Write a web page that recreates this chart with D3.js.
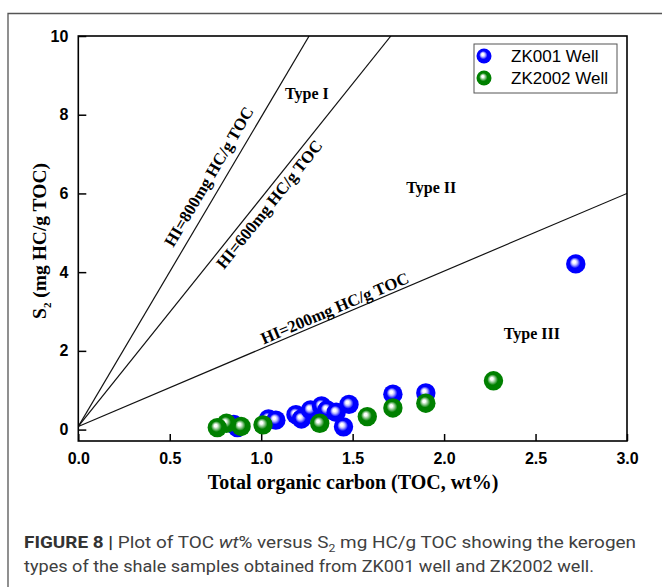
<!DOCTYPE html>
<html><head><meta charset="utf-8">
<script src="https://cdn.jsdelivr.net/npm/d3@7"></script>
<style>body{margin:0;background:#fff}</style>
</head><body>
<svg id="c" width="662" height="587"></svg>
<script>
// ---- data ----
const zk001TOC = [2.72, 1.90, 1.72, 1.19, 1.22, 1.27, 1.33, 1.36, 1.41, 1.48, 1.45, 1.04, 1.08, 0.85, 0.87];
const zk001S2  = [4.21, 0.93, 0.90, 0.38, 0.27, 0.50, 0.60, 0.50, 0.44, 0.64, 0.07, 0.27, 0.24, 0.13, 0.05];
const zk2002TOC = [2.27, 1.90, 1.72, 1.58, 1.32, 1.01, 0.89, 0.81, 0.76];
const zk2002S2  = [1.24, 0.67, 0.55, 0.33, 0.16, 0.12, 0.08, 0.16, 0.05];
const seriesNames = ["ZK001 Well", "ZK2002 Well"];
const xTickValues = [0, 0.5, 1.0, 1.5, 2.0, 2.5, 3.0];
const yTickValues = [0, 2, 4, 6, 8, 10];
const hiLabels = ["HI=800mg HC/g TOC", "HI=600mg HC/g TOC", "HI=200mg HC/g TOC"];
const hiStart = [0, 0.08];
const hiEndTOC = [1.262, 1.709, 3.0];
const hiEndS2  = [10, 10, 6.0];
const hiLabelTOC = [0.783, 1.0, 1.42];
const typeLabels = ["Type I", "Type II", "Type III"];
const typeTOC = [1.25, 1.93, 2.48];
const typeS2  = [8.4, 6.0, 2.3];

// ---- layout ----
const svg = d3.select("#c");
const L = 78.3, R = 627, T = 36, B = 441;
const x = d3.scaleLinear().domain([0, 3]).range([L, R]);
const y = d3.scaleLinear().domain([-0.29, 10]).range([B, T]);
const colors = ["#0000ff", "#008000"];
const lights = ["#b8b8ff", "#a0d0a0"];
const labelOffset = [-9, 16, -3];

// outer frame
svg.append("path").attr("d", "M8,587 V13.5 H662").attr("fill", "none").attr("stroke", "#555").attr("stroke-width", 1.3);

// gradients
const defs = svg.append("defs");
colors.forEach((c, i) => {
  const g = defs.append("radialGradient").attr("id", "g" + i)
    .attr("cx", "50%").attr("cy", "50%").attr("r", "50%").attr("fx", "40%").attr("fy", "38%");
  g.append("stop").attr("offset", "0%").attr("stop-color", "#ffffff");
  g.append("stop").attr("offset", "14%").attr("stop-color", "#ffffff");
  g.append("stop").attr("offset", "30%").attr("stop-color", lights[i]);
  g.append("stop").attr("offset", "55%").attr("stop-color", c);
  g.append("stop").attr("offset", "100%").attr("stop-color", c);
});
defs.append("clipPath").attr("id", "clip").append("rect")
  .attr("x", L).attr("y", T).attr("width", R - L).attr("height", B - T);

// HI lines
const lineG = svg.append("g").attr("clip-path", "url(#clip)");
hiLabels.forEach((lab, i) => {
  lineG.append("line")
    .attr("x1", x(hiStart[0])).attr("y1", y(hiStart[1]))
    .attr("x2", x(hiEndTOC[i])).attr("y2", y(hiEndS2[i]))
    .attr("stroke", "#111").attr("stroke-width", 1.2);
});
// HI labels
hiLabels.forEach((lab, i) => {
  const slope = (hiEndS2[i] - hiStart[1]) / (hiEndTOC[i] - hiStart[0]);
  const t = hiLabelTOC[i];
  const px = x(t), py = y(hiStart[1] + slope * t);
  const dx = x(hiEndTOC[i]) - x(hiStart[0]), dy = y(hiEndS2[i]) - y(hiStart[1]);
  const ang = Math.atan2(dy, dx) * 180 / Math.PI;
  svg.append("text")
    .attr("transform", `translate(${px},${py}) rotate(${ang})`)
    .attr("y", labelOffset[i])
    .attr("text-anchor", "middle")
    .attr("font-family", "Liberation Serif, Times New Roman, serif")
    .attr("font-weight", "bold").attr("font-size", 16.8)
    .text(lab);
});

// type labels
typeLabels.forEach((lab, i) => {
  svg.append("text").attr("x", x(typeTOC[i])).attr("y", y(typeS2[i]))
    .attr("text-anchor", "middle")
    .attr("font-family", "Liberation Serif, Times New Roman, serif")
    .attr("font-weight", "bold").attr("font-size", 16)
    .text(lab);
});

// axes
const xAxis = d3.axisBottom(x).tickValues(xTickValues).tickFormat(d3.format(".1f"))
  .tickSizeInner(-7).tickSizeOuter(0).tickPadding(12);
const yAxis = d3.axisLeft(y).tickValues(yTickValues).tickFormat(d3.format("d"))
  .tickSizeInner(-8).tickSizeOuter(0).tickPadding(10);
const gx = svg.append("g").attr("transform", `translate(0,${B})`).call(xAxis);
const gy = svg.append("g").attr("transform", `translate(${L},0)`).call(yAxis);
[gx, gy].forEach(g => {
  g.select(".domain").remove();
  g.selectAll("line").attr("stroke", "#000").attr("stroke-width", 1.5);
  g.selectAll("text").attr("font-family", "Liberation Sans, Arial, sans-serif")
    .attr("font-weight", "bold").attr("font-size", 16).attr("fill", "#000");
});
svg.append("rect").attr("x", L).attr("y", T).attr("width", R - L).attr("height", B - T)
  .attr("fill", "none").attr("stroke", "#000").attr("stroke-width", 1.6);

// points
const series = [
  zk001TOC.map((v, i) => [v, zk001S2[i]]),
  zk2002TOC.map((v, i) => [v, zk2002S2[i]])
];
series.forEach((pts, si) => {
  svg.append("g").selectAll("circle").data(pts).join("circle")
    .attr("cx", d => x(d[0])).attr("cy", d => y(d[1])).attr("r", 9.7)
    .attr("fill", `url(#g${si})`);
});

// axis titles
svg.append("text").attr("x", (L + R) / 2 + 0.5).attr("y", 489)
  .attr("text-anchor", "middle")
  .attr("font-family", "Liberation Serif, Times New Roman, serif")
  .attr("font-weight", "bold").attr("font-size", 20)
  .text("Total organic carbon (TOC, wt%)");
const yt = svg.append("text").attr("transform", "translate(46,241) rotate(-90)")
  .attr("text-anchor", "middle")
  .attr("font-family", "Liberation Serif, Times New Roman, serif")
  .attr("font-weight", "bold").attr("font-size", 19.5);
yt.append("tspan").text("S");
yt.append("tspan").attr("font-size", 11).attr("dy", 5).text("2");
yt.append("tspan").attr("dy", -5).text(" (mg HC/g TOC)");

// legend
const lg = svg.append("g");
lg.append("rect").attr("x", 474).attr("y", 44).attr("width", 143).attr("height", 49)
  .attr("fill", "#fff").attr("stroke", "#555").attr("stroke-width", 1);
seriesNames.forEach((n, i) => {
  lg.append("circle").attr("cx", 484).attr("cy", 56 + i * 22).attr("r", 7.5).attr("fill", `url(#g${i})`);
  lg.append("text").attr("x", 511).attr("y", 62 + i * 22)
    .attr("font-family", "Liberation Sans, Arial, sans-serif").attr("font-size", 17)
    .attr("fill", "#000").text(n);
});

// caption
const cap1 = svg.append("text").attr("x", 24).attr("y", 548)
  .attr("font-family", "Roboto, Liberation Sans, sans-serif").attr("font-size", 17)
  .attr("fill", "#404040").attr("textLength", 612).attr("lengthAdjust", "spacingAndGlyphs");
cap1.append("tspan").attr("font-weight", "bold").attr("fill", "#333").text("FIGURE 8 |");
cap1.append("tspan").text(" Plot of TOC ");
cap1.append("tspan").attr("font-style", "italic").text("wt");
cap1.append("tspan").text("% versus S");
cap1.append("tspan").attr("font-size", 11).attr("dy", 4).text("2");
cap1.append("tspan").attr("dy", -4).text(" mg HC/g TOC showing the kerogen");
svg.append("text").attr("x", 24).attr("y", 572)
  .attr("font-family", "Roboto, Liberation Sans, sans-serif").attr("font-size", 17)
  .attr("fill", "#404040").attr("textLength", 570).attr("lengthAdjust", "spacingAndGlyphs")
  .text("types of the shale samples obtained from ZK001 well and ZK2002 well.");
</script>
</body></html>
